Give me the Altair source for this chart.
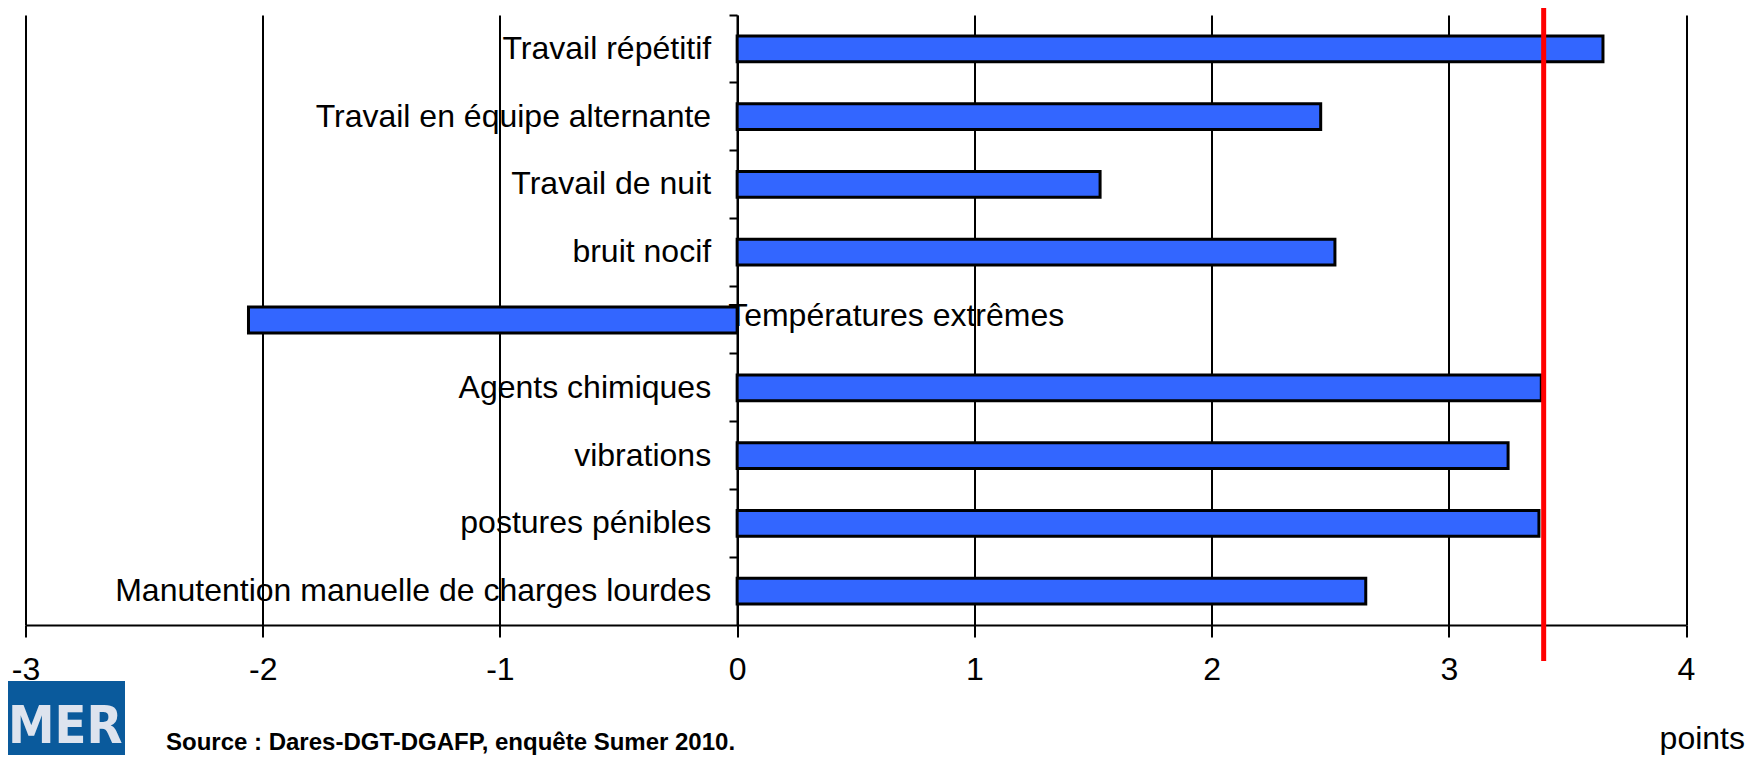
import altair as alt
import pandas as pd

categories = [
    "Travail répétitif",
    "Travail en équipe alternante",
    "Travail de nuit",
    "bruit nocif",
    "Températures extrêmes",
    "Agents chimiques",
    "vibrations",
    "postures pénibles",
    "Manutention manuelle de charges lourdes",
]
values = [3.65, 2.46, 1.53, 2.52, -2.06, 3.39, 3.25, 3.38, 2.65]
reference_value = 3.40
x_ticks = [-3, -2, -1, 0, 1, 2, 3, 4]
source_text = "Source : Dares-DGT-DGAFP, enquête Sumer 2010."
unit_text = "points"

df = pd.DataFrame({"cat": categories, "val": values, "zero": [0] * len(values)})

FONT = "Liberation Sans"

x_scale = alt.Scale(domain=[-3, 4], nice=False, zero=False)
y_scale = alt.Scale(domain=categories, paddingInner=0, paddingOuter=0)

base = alt.Chart(df)

bars = base.mark_bar(
    height=alt.RelativeBandSize(band=0.38),
    fill="#3366FF",
    stroke="black",
    strokeWidth=3,
).encode(
    x=alt.X(
        "val:Q",
        scale=x_scale,
        axis=alt.Axis(
            values=x_ticks,
            title=None,
            labelExpr="'' + datum.value",
            labelFlush=False,
            grid=True,
            gridColor="black",
            gridWidth=2,
            gridOpacity=1,
            domainColor="black",
            domainWidth=2,
            tickColor="black",
            tickWidth=2,
            tickSize=12,
            labelFont=FONT,
            labelFontSize=32,
            labelColor="black",
            labelPadding=17,
        ),
    ),
    y=alt.Y(
        "cat:N",
        scale=y_scale,
        sort=categories,
        axis=alt.Axis(
            title=None,
            labels=False,
            offset=-711.5,
            domainColor="black",
            domainWidth=2,
            tickColor="black",
            tickWidth=2,
            tickSize=8,
            bandPosition=0,
            grid=False,
        ),
    ),
)

labels_pos = base.transform_filter("datum.val >= 0").mark_text(
    align="right", baseline="middle", dx=-26, font=FONT, fontSize=32, color="black"
).encode(
    x=alt.X("zero:Q", scale=x_scale),
    y=alt.Y("cat:N", scale=y_scale, sort=categories),
    text="cat:N",
)

labels_neg = base.transform_filter("datum.val < 0").mark_text(
    align="left", baseline="middle", dx=-9, dy=-4, font=FONT, fontSize=32, color="black"
).encode(
    x=alt.X("zero:Q", scale=x_scale),
    y=alt.Y("cat:N", scale=y_scale, sort=categories),
    text="cat:N",
)

ref_df = pd.DataFrame({"ref": [reference_value]})
red_rule = alt.Chart(ref_df).mark_rule(color="#FF0000", strokeWidth=5).encode(
    x=alt.X("ref:Q", scale=x_scale),
    y=alt.value(-20),
    y2=alt.value(646),
)

ann_df = pd.DataFrame({"source": [source_text], "unit": [unit_text], "logo": ["MER"]})

source = alt.Chart(ann_df).mark_text(
    align="left", baseline="alphabetic", font=FONT, fontSize=24, fontWeight="bold", color="black"
).encode(x=alt.value(140.5), y=alt.value(735), text="source:N")

unit = alt.Chart(ann_df).mark_text(
    align="right", baseline="alphabetic", font=FONT, fontSize=32, color="black"
).encode(x=alt.value(1719.5), y=alt.value(734), text="unit:N")

logo_bg = alt.Chart(ann_df).mark_rect(color="#0a5a9c").encode(
    x=alt.value(-30), x2=alt.value(99.5), y=alt.value(666), y2=alt.value(760)
)
logo_txt = alt.Chart(ann_df).mark_text(
    align="right", baseline="alphabetic", font="DejaVu Sans Condensed",
    fontSize=52, fontWeight="bold", color="#dde3ee"
).encode(x=alt.value(97), y=alt.value(728), text="logo:N")

chart = (
    alt.layer(bars, labels_pos, labels_neg, red_rule, logo_bg, logo_txt, source, unit)
    .properties(
        width=1660.5,
        height=610,
        padding={"left": 17.5, "top": 7, "right": 60, "bottom": 130},
        autosize=alt.AutoSizeParams(type="none"),
        background="white",
    )
    .configure_view(stroke=None)
)

chart.save("out.html", embed_options={"renderer": "svg", "actions": False})
